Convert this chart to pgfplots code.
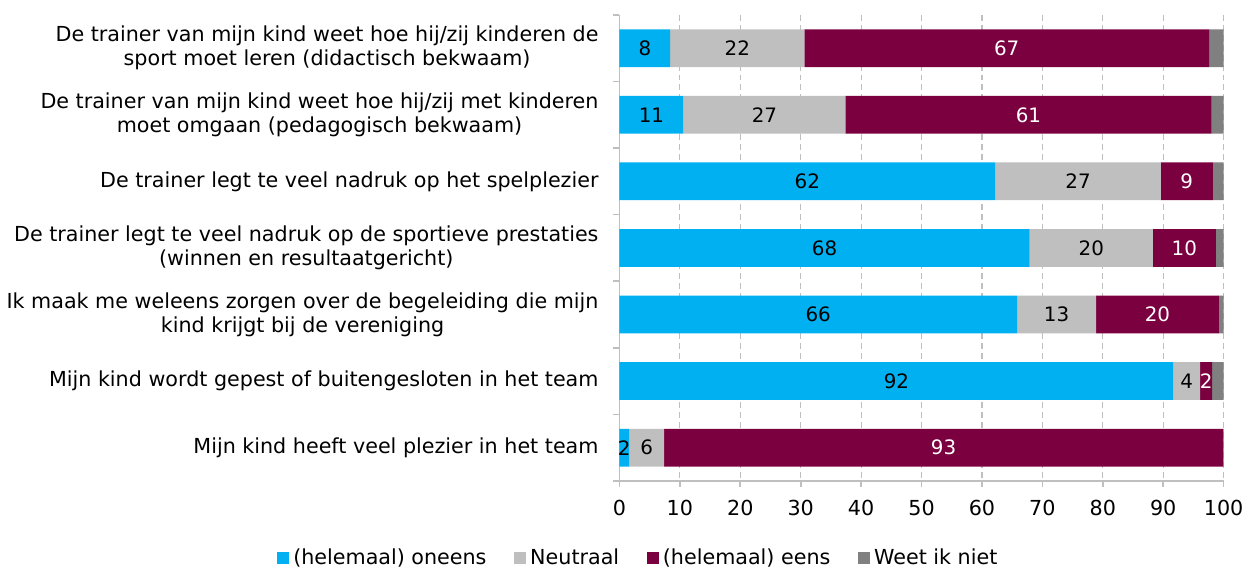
\documentclass[border=0pt]{standalone}
\usepackage{fontspec}
\setmainfont{DejaVu Sans}
\usepackage{pgfplots}
\usepackage{pgfplotstable}
\pgfplotsset{compat=1.18}

\definecolor{cOneens}{HTML}{00B0F0}
\definecolor{cNeutraal}{HTML}{BFBFBF}
\definecolor{cEens}{HTML}{7B003F}
\definecolor{cWeet}{HTML}{808080}
\definecolor{cAxis}{HTML}{BFBFBF}

% rows top to bottom: oneens, neutraal, eens, weet ik niet
\pgfplotstableread{
y a b c d
0 8.4 22.2 67.0 2.4
1 10.6 26.8 60.6 2.0
2 62.2 27.4 8.6 1.8
3 67.9 20.4 10.4 1.3
4 65.8 13.1 20.3 0.8
5 91.7 4.4 2.0 1.9
6 1.6 5.8 92.5 0.1
}\data

\begin{document}
\begin{tikzpicture}[font=\fontsize{10.4pt}{12pt}\selectfont]
\begin{axis}[
    xbar stacked,
    width=304pt, height=234.5pt,
    scale only axis,
    y dir=reverse,
    bar width=19pt,
    xmin=0, xmax=100,
    ymin=-0.5, ymax=6.5,
    xtick={0,10,...,100},
    ytick={0,...,6},
    yticklabels={
        {De trainer van mijn kind weet hoe hij/zij kinderen de\\sport moet leren (didactisch bekwaam)},
        {De trainer van mijn kind weet hoe hij/zij met kinderen\\moet omgaan (pedagogisch bekwaam)},
        {De trainer legt te veel nadruk op het spelplezier},
        {De trainer legt te veel nadruk op de sportieve prestaties\\(winnen en resultaatgericht)},
        {Ik maak me weleens zorgen over de begeleiding die mijn\\kind krijgt bij de vereniging},
        {Mijn kind wordt gepest of buitengesloten in het team},
        {Mijn kind heeft veel plezier in het team}},
    yticklabel style={align=center, xshift=-4pt},
    minor ytick={-0.5,0.5,...,6.5},
    major y tick style={draw=none},
    minor y tick style={cAxis, line width=0.8pt},
    major x tick style={cAxis, line width=0.8pt},
    tick align=outside,
    major tick length=3pt, minor tick length=3pt,
    axis x line*=bottom, axis y line*=left,
    axis line style={cAxis, line width=0.8pt, -},
    xmajorgrids,
    grid style={cAxis, dash pattern=on 3pt off 2pt, line width=0.6pt},
    /pgf/number format/assume math mode=true,
    xticklabel style={font=\fontsize{10.4pt}{12pt}\selectfont, yshift=-3pt},
    point meta=explicit,
    nodes near coords={\pgfmathprintnumber[fixed,precision=0]{\pgfplotspointmeta}},
    every node near coord/.append style={font=\fontsize{10pt}{12pt}\selectfont},
    legend style={draw=none, at={(axis description cs:0.033,-0.166)}, anchor=center,
        legend columns=-1, font=\fontsize{10.4pt}{12pt}\selectfont,
        /tikz/every even column/.append style={column sep=12pt}},
    legend image code/.code={\fill[#1] (0pt,-3pt) rectangle (6pt,3pt);},
    legend cell align=left,
]
\addplot[fill=cOneens, draw=none] table[x=a, y=y, meta=a]{\data};
\addlegendentry{(helemaal) oneens}
\addplot[fill=cNeutraal, draw=none] table[x=b, y=y, meta=b]{\data};
\addlegendentry{Neutraal}
\addplot[fill=cEens, draw=none, every node near coord/.append style={text=white}] table[x=c, y=y, meta=c]{\data};
\addlegendentry{(helemaal) eens}
\addplot[fill=cWeet, draw=none, nodes near coords={}] table[x=d, y=y, meta=d]{\data};
\addlegendentry{Weet ik niet}
\end{axis}
\path (current axis.south west) ++(-310.5pt,-44pt) rectangle ++(625pt,286pt);
\end{tikzpicture}
\end{document}
